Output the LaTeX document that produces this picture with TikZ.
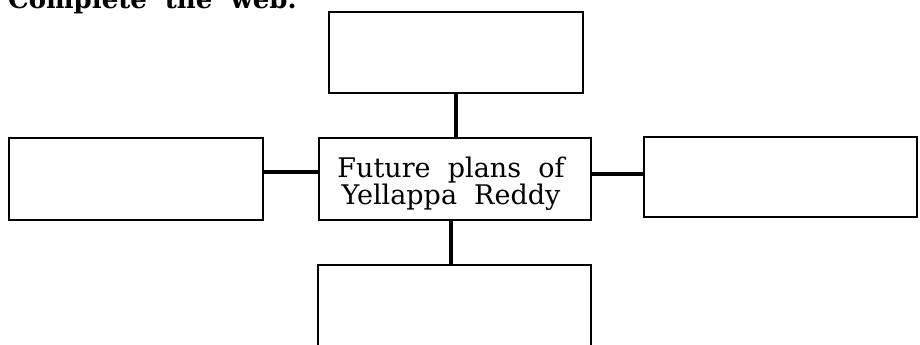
\documentclass[tikz,border=0pt]{standalone}
\usepackage{fontspec}
\setmainfont{DejaVu Serif}
\begin{document}
\begin{tikzpicture}[x=1pt,y=-1pt,
  box/.style={draw, line width=2.5pt, inner sep=0pt},
  link/.style={line width=3.5pt},
  wide/.style={font=\fontsize{27}{26}\selectfont}]
\useasboundingbox (0,0) rectangle (920,345);
\clip (0,0) rectangle (920,345);
\node[anchor=base west, inner sep=0pt, font=\bfseries\fontsize{26}{28}\selectfont] (title) at (8,8.5) {Complete\ \ the\ \ web.};
\node[box, minimum width=254pt, minimum height=81pt] (top) at (456,52.5) {};
\node[box, minimum width=272pt, minimum height=82pt] (center) at (455,179) {};
\node[align=center, inner sep=0pt, wide] (centerlabel) at ([yshift=-5pt,xshift=-4pt]center.center) {Future\ \ plans\ \ of\\Yellappa\ \ Reddy};
\node[box, minimum width=254pt, minimum height=82pt] (left) at (136,179) {};
\node[box, minimum width=273pt, minimum height=80pt] (right) at (780.5,177) {};
\node[box, minimum width=273pt, minimum height=120pt] (bottom) at (454.5,325) {};
\draw[link] (top.south) -- (top.south |- center.north);
\draw[link] ([yshift=7pt]left.east) -- ([yshift=7pt]left.east -| center.west);
\draw[link] ([yshift=5pt]center.east) -- ([yshift=5pt]center.east -| right.west);
\draw[link] ([xshift=-4pt]center.south) -- ([xshift=-4pt]center.south |- bottom.north);
\end{tikzpicture}
\end{document}
